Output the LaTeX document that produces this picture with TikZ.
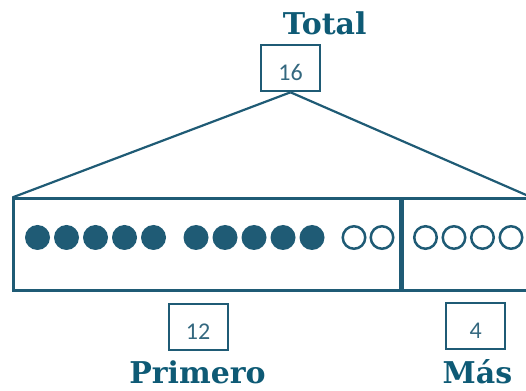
\documentclass[tikz,border=0pt]{standalone}
\usepackage{fontspec}
\newfontfamily\tagfont{DejaVu Serif}
\newfontfamily\numfont{Carlito}
\usepackage{tikz}
\usetikzlibrary{positioning}
\definecolor{DeepTeal}{HTML}{1F5B75}
\definecolor{TagTeal}{HTML}{0E5A75}
\definecolor{NumTeal}{HTML}{34687F}

\begin{document}
\begin{tikzpicture}[
  x=1pt,y=1pt,
  numbox/.style={draw=DeepTeal,line width=2pt,rectangle,inner sep=0,
    minimum width=59pt,minimum height=46pt,text=NumTeal,
    font=\numfont\fontsize{24}{24}\selectfont,
    text height=24pt,text depth=0.5pt},
  tag/.style={text=TagTeal,inner sep=0,anchor=base,
    font=\tagfont\bfseries\fontsize{30}{30}\selectfont},
  barpart/.style={draw=DeepTeal,line width=2.5pt,rectangle,inner sep=0,
    minimum height=92pt},
  dot/.style={circle,fill=DeepTeal,inner sep=0,minimum size=25pt},
  ring/.style={circle,draw=DeepTeal,line width=2.5pt,inner sep=0,
    minimum size=22.5pt},
  link/.style={draw=DeepTeal,line width=2.2pt}
  ]

  \useasboundingbox (0,0) rectangle (526,390);
  \clip (0,0) rectangle (526,390);

  % the bar, split in two parts
  \node[barpart,minimum width=386.3pt] (first) at (206.85,145.3) {};
  \node[barpart,minimum width=128pt,anchor=west] (more) at (first.east) {};
  \draw[DeepTeal,line width=4.5pt] (first.north east) -- (first.south east);

  % counters
  \foreach \i in {0,...,4} {
    \node[dot] (dotA\i) at (37.5+29*\i,152.5) {};
    \node[dot] (dotB\i) at (196+29*\i,152.5) {};
  }
  \foreach \i in {0,1}
    \node[ring] (ringA\i) at (354+28*\i,152.5) {};
  \foreach \i in {0,...,3}
    \node[ring] (ringB\i) at (425.5+28.5*\i,152.5) {};

  % totals and labels
  \node[numbox] (total) at (290.5,321.7) {16};
  \node[numbox] (first num) at (198,62.5) {12};
  \node[numbox] (more num) at (475.7,63.5) {4};

  \node[tag] (total tag) at (324.7,355.7) {Total};
  \node[tag] (first tag) at (197.5,6.5) {Primero};
  \node[tag] (more tag) at (477.5,6.5) {Más};

  \draw[link] (total.south) -- (first.north west);
  \draw[link] (total.south) -- (more.north east);
\end{tikzpicture}
\end{document}
